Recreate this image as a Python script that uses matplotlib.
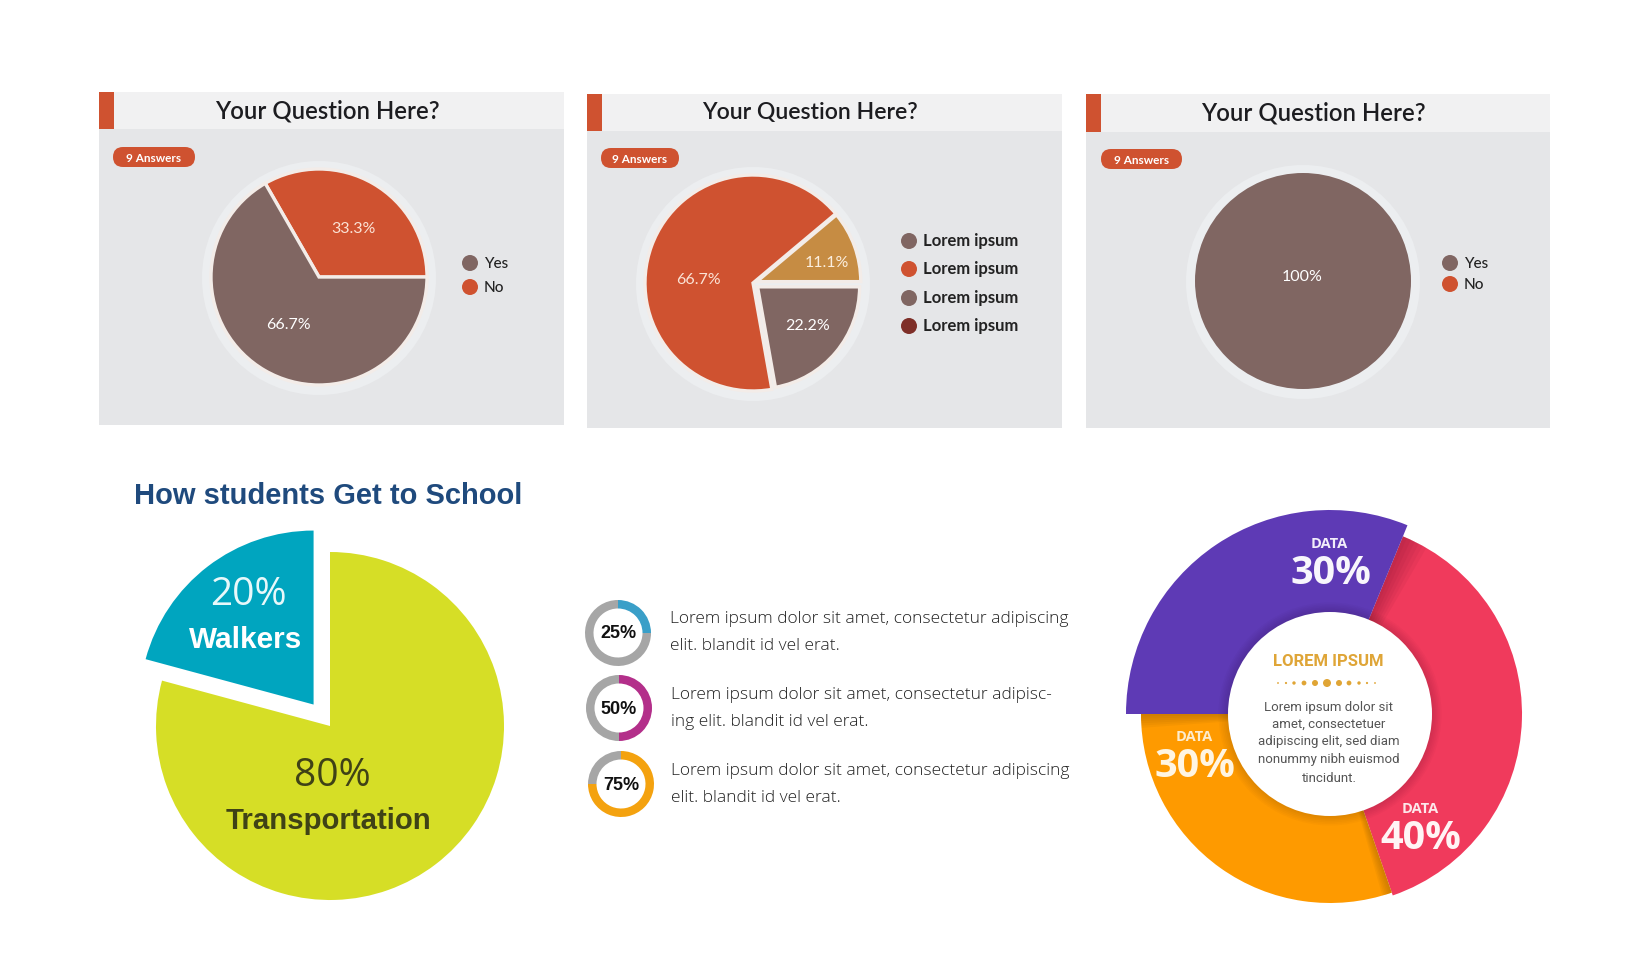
import matplotlib
matplotlib.use("Agg")
import matplotlib.pyplot as plt
from matplotlib.patches import Rectangle, Circle, FancyBboxPatch, Wedge

W, H = 1633, 980

RED = "#cf5230"
BROWN = "#806662"
GOLD = "#c68c43"
DARK = "#7e2f28"
PANEL = "#e5e6e8"
HEADER = "#f1f1f2"
HALO = "#eceef0"
SEP = "#f3ece8"

# top row
question = "Your Question Here?"
badge = "9 Answers"
q1_labels = ["No", "Yes"]
q1_shares = [33.3, 66.7]
q1_text = ["33.3%", "66.7%"]
q2_shares = [11.1, 66.7, 22.2]
q2_text = ["11.1%", "66.7%", "22.2%"]
q2_legend = ["Lorem ipsum", "Lorem ipsum", "Lorem ipsum", "Lorem ipsum"]
q3_shares = [100]
q3_text = ["100%"]
yes_no = ["Yes", "No"]

# bottom left, arc shares as measured, labels as printed
school_title = "How students Get to School"
school_labels = ["Walkers", "Transportation"]
school_shares = [20.8, 79.2]
school_text = ["20%", "80%"]

# small rings
ring_shares = [25, 50, 75]
ring_colors = ["#3a9fc8", "#b32f8a", "#f4a20f"]
ring_lines = [
    ["Lorem ipsum dolor sit amet, consectetur adipiscing", "elit. blandit id vel erat."],
    ["Lorem ipsum dolor sit amet, consectetur adipisc-", "ing elit. blandit id vel erat."],
    ["Lorem ipsum dolor sit amet, consectetur adipiscing", "elit. blandit id vel erat."],
]

# big donut, arc shares as measured, labels as printed
donut_shares = [31.2, 38.5, 30.3]
donut_text = ["30%", "40%", "30%"]
donut_colors = ["#5e3ab5", "#f03a5c", "#fe9a00"]
center_title = "LOREM IPSUM"
center_lines = ["Lorem ipsum dolor sit", "amet, consectetuer", "adipiscing elit, sed diam",
                "nonummy nibh euismod", "tincidunt."]
dot_x = [-49, -41, -33, -23, -12, 0, 12, 22, 32, 40, 48]
dot_r = [0.9, 1.1, 1.7, 2.4, 3, 4, 3, 2.4, 1.7, 1.1, 0.9]

fig = plt.figure(figsize=(W / 100, H / 100), dpi=100, facecolor="white")
bg = fig.add_axes([0, 0, 1, 1], zorder=-1)
bg.set_xlim(0, W); bg.set_ylim(H, 0); bg.axis("off")


def px_text(x, y, s, size, color="white", family="Lato", weight="normal", ha="center"):
    fig.text(x / W, 1 - y / H, s, fontsize=size, color=color, family=family,
             fontweight=weight, ha=ha, va="center", zorder=5)


def pie_axes(cx, cy, half):
    ax = fig.add_axes([(cx - half) / W, 1 - (cy + half) / H, 2 * half / W, 2 * half / H])
    ax.patch.set_alpha(0)
    return ax


def fix_limits(ax, half):
    ax.set_xlim(-half, half); ax.set_ylim(-half, half)
    ax.set_aspect("equal"); ax.axis("off")


def panel(x0, x1, y0, ym, y1, bx0, bx1, by0, by1, title_x, title_y, title_size=17.2):
    bg.add_patch(Rectangle((x0, y0), x1 - x0, y1 - y0, fc=PANEL, ec="none"))
    bg.add_patch(Rectangle((x0, y0), x1 - x0, ym - y0, fc=HEADER, ec="none"))
    bg.add_patch(Rectangle((x0, y0), 15, ym - y0, fc=RED, ec="none"))
    r = (by1 - by0) / 2
    bg.add_patch(FancyBboxPatch((bx0 + r, by0 + r), bx1 - bx0 - 2 * r, 0,
                                boxstyle=f"round,pad={r},rounding_size={r}", fc=RED, ec="none"))
    px_text((bx0 + bx1) / 2, (by0 + by1) / 2 + 1, badge, 8.5, weight="bold")
    px_text(title_x, title_y, question, title_size, color="#1c1c20", weight="semibold")


def legend_dots(x, ys, labels, colors, size=11, weight="medium", dy=1):
    for y, lab, c in zip(ys, labels, colors):
        bg.add_patch(Circle((x, y), 8, fc=c, ec="none"))
        px_text(x + 14, y + dy, lab, size, color="#222222", weight=weight, ha="left")


def question_pie(cx, cy, shares, colors, explode=None, radius=107):
    ax = pie_axes(cx, cy, 125)
    ax.add_patch(Circle((0, -1), 117, fc=HALO, ec="none"))
    wedges, _ = ax.pie(shares, colors=colors, startangle=0, radius=radius + 1, explode=explode,
                       wedgeprops=dict(edgecolor=SEP, linewidth=2.4 if len(shares) > 1 else 0))
    if explode:
        for w, e in zip(wedges, explode):
            if e:
                w.set_radius(radius + 1 - e)
    fix_limits(ax, 125)


# top row panels
panel(99, 564, 92, 129, 425, 113, 195, 147, 167, 327, 111)
question_pie(319, 277, q1_shares, [RED, BROWN])
px_text(353, 229, q1_text[0], 11.5, color="#fbe3d6")
px_text(288, 325, q1_text[1], 11.5)
legend_dots(470, [263, 287], yes_no, [BROWN, RED])

panel(587, 1062, 94, 131, 428, 601, 679, 148, 168, 810, 112, title_size=16.6)
question_pie(753, 283, q2_shares, [GOLD, RED, BROWN], explode=[4, 0, 6])
px_text(827, 263, q2_text[0], 11.5, color="#fbeede")
px_text(698, 280, q2_text[1], 11.5, color="#fbe3d6")
px_text(808, 326, q2_text[2], 11.5)
legend_dots(909, [241, 269, 298, 326], q2_legend, [BROWN, RED, BROWN, DARK], size=12, weight="bold", dy=0)

panel(1086, 1550, 94, 132, 428, 1101, 1182, 149, 169, 1313, 113)
question_pie(1303, 281, q3_shares, [BROWN])
px_text(1302, 277, q3_text[0], 11.5)
legend_dots(1450, [263, 284], yes_no, [BROWN, RED])

# students pie
px_text(134, 496, school_title, 21, color="#1f4a7d", family="Liberation Sans", weight="bold", ha="left")
ax = pie_axes(330, 726, 215)
ax.pie(school_shares, colors=["#00a5bf", "#d6de26"], startangle=90, radius=174, explode=[27, 0])
fix_limits(ax, 215)
px_text(248, 595, school_text[0], 28, color="#e8f8fa", family="Open Sans")
px_text(246, 640, school_labels[0], 21.4, family="Liberation Sans", weight="bold")
px_text(332, 776, school_text[1], 28, color="#3f4216", family="Open Sans")
px_text(328, 821, school_labels[1], 21.2, color="#3f4216", family="Liberation Sans", weight="bold")

# small rings with text
ring_xy = [(618, 633), (619, 708), (621, 784)]
ring_text_x = [670, 671, 671]
ring_text_y = [(619, 646), (695, 722), (771, 798)]
for (cx, cy), share, col, lines, tx, ty in zip(ring_xy, ring_shares, ring_colors, ring_lines, ring_text_x, ring_text_y):
    ax = pie_axes(cx, cy, 36)
    ax.pie([share, 100 - share], colors=[col, "#a6a6a6"], startangle=90, counterclock=False,
           radius=33, wedgeprops=dict(width=8.5))
    fix_limits(ax, 36)
    px_text(cx, cy + 1, f"{share}%", 13, color="#111111", family="Liberation Sans", weight="bold")
    for y, line in zip(ty, lines):
        px_text(tx, y, line, 12.5, color="#222222", family="Open Sans", weight="light", ha="left")

# big donut
dcx, dcy = 1330, 714
ax = pie_axes(dcx, dcy, 215)
wedges, _ = ax.pie(donut_shares, colors=donut_colors, startangle=180, counterclock=False, radius=192)
wedges[0].set_radius(204)
wedges[0].set_zorder(3)
wedges[2].set_radius(189)

# soft shadows where one slice overlaps the next
a_purple = wedges[0].theta1
a_red = wedges[1].theta1
for i in range(6):
    ax.add_patch(Wedge((0, 0), 192, a_purple - 1.3 * (i + 1), a_purple, fc="#7a1030", alpha=0.07, ec="none", zorder=2))
    ax.add_patch(Wedge((0, 0), 189, a_red - 0.5 * (i + 1), a_red, fc="#8a5500", alpha=0.07, ec="none", zorder=2))
    ax.add_patch(Wedge((0, 0), 189, 180, 180 + 0.7 * (i + 1), fc="#8a5500", alpha=0.07, ec="none", zorder=2))
    ax.add_patch(Circle((0, 0), 102 + 1.6 * (6 - i), fc="black", alpha=0.02, ec="none", zorder=4))
ax.add_patch(Circle((0, 0), 102, fc="white", ec="none", zorder=5))
for dx, r in zip(dot_x, dot_r):
    ax.add_patch(Circle((dx - 3, 31), r, fc="#e0a535", ec="none", zorder=6))
fix_limits(ax, 215)

px_text(1329, 544, "DATA", 10.5, family="Open Sans", weight="bold", color="#f2eefa")
px_text(1331, 573, donut_text[0], 28.5, family="Open Sans", weight="bold", color="#f8f6fc")
px_text(1420, 809, "DATA", 10.5, family="Open Sans", weight="bold", color="#fde7ea")
px_text(1421, 838, donut_text[1], 28.5, family="Open Sans", weight="bold", color="#fff4f5")
px_text(1194, 737, "DATA", 10.5, family="Open Sans", weight="bold", color="#fdeccd")
px_text(1195, 766, donut_text[2], 28.5, family="Open Sans", weight="bold", color="#fff5e2")

px_text(1328, 662, center_title, 12, color="#dfa537", family="Roboto", weight="bold")
for y, line in zip([707, 724, 742, 760, 778], center_lines):
    px_text(1329, y, line, 9.5, color="#555555", family="Roboto")

fig.savefig("out.png", dpi=100)
